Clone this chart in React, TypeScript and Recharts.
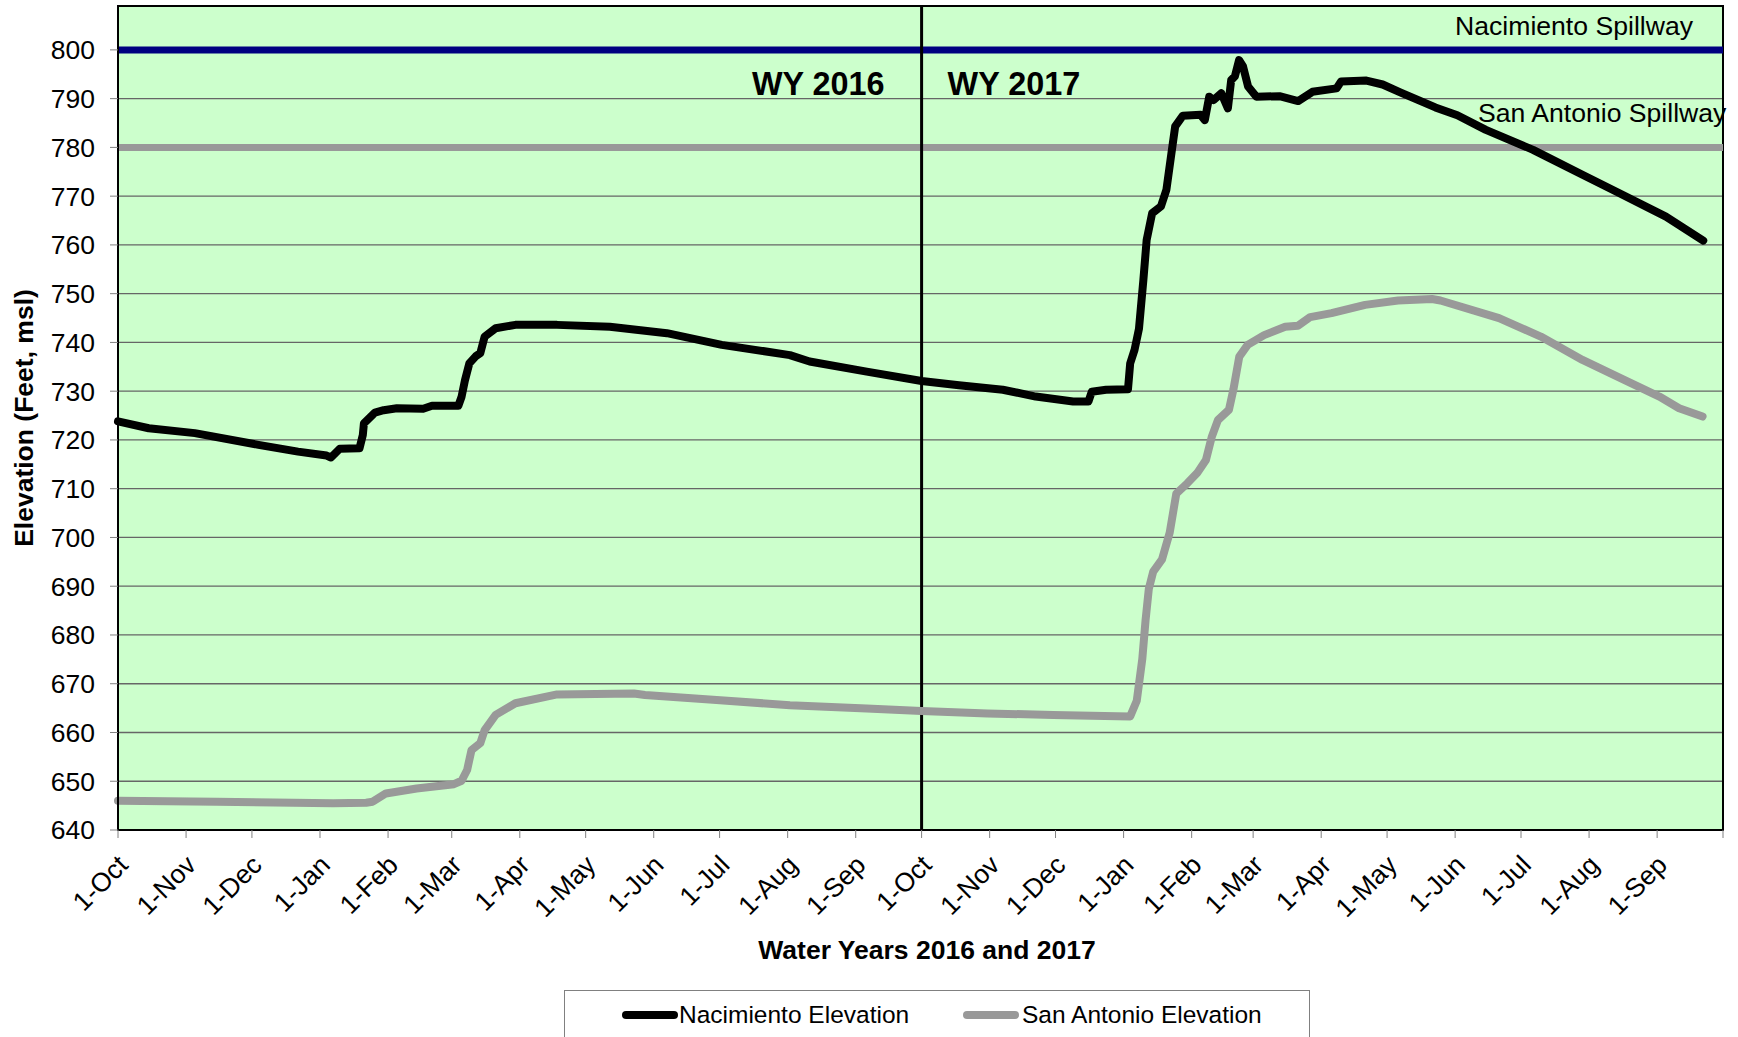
import React from 'react';
import { LineChart, Line, XAxis, YAxis, CartesianGrid, ReferenceLine, ReferenceArea } from 'recharts';

// Days counted from 1-Oct-2015 (start of WY 2016)
const nacDays = [0, 14, 35, 64, 82, 95, 97, 101, 110, 111.5, 112, 117, 121, 127, 139, 143, 155, 156.5, 158, 160, 163, 165, 167, 172, 181, 200, 224, 250, 275, 306, 315, 341, 366, 383, 403, 418, 435, 442, 443.5, 450, 460, 461, 463, 465, 467, 468.5, 471, 475, 477.5, 480, 481.5, 485, 493, 495, 497, 499, 502.5, 505.5, 507, 508.7, 510.6, 512.4, 514.7, 518.5, 529, 537.5, 544, 555, 557, 568.6, 576, 584, 600, 610, 623, 644.5, 667, 682.5, 705, 722];
const nacElev = [723.8, 722.4, 721.4, 719.0, 717.6, 716.8, 716.4, 718.2, 718.3, 721, 723.4, 725.6, 726.1, 726.5, 726.4, 727.0, 727.0, 728.9, 732.2, 735.7, 737.2, 737.8, 741.2, 742.9, 743.6, 743.6, 743.2, 741.9, 739.5, 737.4, 736.1, 734.0, 732.1, 731.2, 730.3, 728.9, 727.9, 727.9, 729.9, 730.3, 730.4, 735.7, 738.5, 742.8, 752.8, 761, 766.5, 767.9, 771.3, 779.5, 784.3, 786.5, 786.7, 785.6, 790.4, 789.7, 791.1, 788.0, 793.8, 794.6, 797.9, 796.6, 792.5, 790.4, 790.5, 789.5, 791.4, 792.1, 793.5, 793.7, 792.9, 791.3, 788.2, 786.6, 783.6, 779.5, 774.4, 770.9, 765.8, 760.9];

const saDays = [0, 45, 98, 113, 116, 122, 136, 153, 156.5, 159, 161, 165, 167, 172, 181, 200, 235, 240, 271, 306, 341, 366, 396, 426, 461, 464, 466.5, 468, 469.5, 471.5, 475.5, 479, 482, 487, 491.5, 495.5, 498.2, 501, 506, 508, 510.7, 514.5, 522, 531.6, 537.4, 543, 552.7, 568, 583, 598.5, 602.3, 629, 648, 667, 686, 702, 711, 721.7];
const saElev = [646.0, 645.8, 645.5, 645.6, 645.8, 647.5, 648.5, 649.4, 650.1, 652.3, 656.4, 657.8, 660.5, 663.6, 666.0, 667.8, 668.0, 667.7, 666.7, 665.6, 664.9, 664.4, 663.9, 663.6, 663.3, 666.5, 675, 683, 689.5, 693, 695.5, 701, 709, 711.1, 713.2, 715.9, 720.7, 724.1, 726.2, 730.3, 737.1, 739.5, 741.5, 743.2, 743.4, 745.2, 746.0, 747.7, 748.6, 748.9, 748.6, 745.0, 741.2, 736.4, 732.3, 728.9, 726.5, 724.8];

const monthTicks = [0, 31, 61, 92, 123, 152, 183, 213, 244, 274, 305, 336, 366, 397, 427, 458, 489, 517, 548, 578, 609, 639, 670, 701, 731];
const monthLabels = ['1-Oct', '1-Nov', '1-Dec', '1-Jan', '1-Feb', '1-Mar', '1-Apr', '1-May', '1-Jun', '1-Jul', '1-Aug', '1-Sep', '1-Oct', '1-Nov', '1-Dec', '1-Jan', '1-Feb', '1-Mar', '1-Apr', '1-May', '1-Jun', '1-Jul', '1-Aug', '1-Sep', ''];
const yTicks = [640, 650, 660, 670, 680, 690, 700, 710, 720, 730, 740, 750, 760, 770, 780, 790, 800];

const nacSpillway = 800;
const saSpillway = 780;
const wyBoundary = 366;
const xMax = 731;
const yMin = 640;
const yMax = 809;

const FONT = '"Liberation Sans", Arial, sans-serif';

function buildData() {
  const rows: Record<number, any> = {};
  nacDays.forEach((d, i) => {
    rows[d] = rows[d] || { day: d };
    rows[d].nac = nacElev[i];
  });
  saDays.forEach((d, i) => {
    rows[d] = rows[d] || { day: d };
    rows[d].sa = saElev[i];
  });
  return Object.keys(rows)
    .map(Number)
    .sort((a, b) => a - b)
    .map((k) => rows[k]);
}

const data = buildData();

const XTick = (props: any) => {
  const { x, y, payload } = props;
  const idx = monthTicks.indexOf(payload.value);
  const label = idx >= 0 ? monthLabels[idx] : '';
  return (
    <g transform={`translate(${x + 5},${y + 20})`}>
      <text textAnchor="end" transform="rotate(-45)" dy="0.35em" fontSize={26.5} fontFamily={FONT} fill="#000">
        {label}
      </text>
    </g>
  );
};

export default function App() {
  return (
    <div style={{ position: 'absolute', left: 0, top: 0, width: 1738, height: 1037, overflow: 'hidden', background: '#fff' }}>
      <LineChart width={1738} height={1037} data={data} margin={{ top: 6, right: 15, bottom: 0, left: 0 }}>
        <CartesianGrid vertical={false} stroke="#666666" strokeWidth={1.3} fill="#CCFFCC" fillOpacity={1} />
        <XAxis
          dataKey="day"
          type="number"
          domain={[0, xMax]}
          ticks={monthTicks}
          interval={0}
          height={207}
          tick={<XTick />}
          tickSize={8}
          axisLine={{ stroke: '#000', strokeWidth: 2 }}
          tickLine={{ stroke: '#808080' }}
          label={(p: any) => {
            return (
              <text x={927} y={950} textAnchor="middle" dy="0.35em" fontSize={26.5} fontWeight="bold" fontFamily={FONT} fill="#000">
                Water Years 2016 and 2017
              </text>
            );
          }}
        />
        <YAxis
          type="number"
          domain={[yMin, yMax]}
          ticks={yTicks}
          interval={0}
          width={118}
          tickSize={8}
          tickMargin={15}
          tick={{ fontSize: 26.5, fontFamily: FONT, fill: '#000' }}
          axisLine={{ stroke: '#000', strokeWidth: 2 }}
          tickLine={{ stroke: '#808080' }}
          allowDataOverflow
          label={(p: any) => (
            <text x={24} y={418} transform="rotate(-90, 24, 418)" textAnchor="middle" dy="0.35em" fontSize={26.5} fontWeight="bold" fontFamily={FONT} fill="#000">
              Elevation (Feet, msl)
            </text>
          )}
        />
        <ReferenceLine
          y={nacSpillway}
          stroke="#000080"
          strokeWidth={7}
          label={(p: any) => {
            const vb = p.viewBox || {};
            return (
              <text x={vb.x + vb.width - 30} y={vb.y - 15} textAnchor="end" fontSize={26.6} fontFamily={FONT} fill="#000">
                Nacimiento Spillway
              </text>
            );
          }}
        />
        <ReferenceLine
          y={saSpillway}
          stroke="#999999"
          strokeWidth={7}
          label={(p: any) => {
            const vb = p.viewBox || {};
            return (
              <text x={vb.x + vb.width - 245} y={vb.y - 25} textAnchor="start" fontSize={26.6} fontFamily={FONT} fill="#000">
                San Antonio Spillway
              </text>
            );
          }}
        />
        <ReferenceLine
          x={wyBoundary}
          stroke="#000"
          strokeWidth={3}
          label={(p: any) => {
            const vb = p.viewBox || {};
            return (
              <g>
                <text x={vb.x - 37} y={vb.y + 89} textAnchor="end" fontSize={32.4} fontWeight="bold" fontFamily={FONT} fill="#000">
                  WY 2016
                </text>
                <text x={vb.x + 26} y={vb.y + 89} textAnchor="start" fontSize={32.4} fontWeight="bold" fontFamily={FONT} fill="#000">
                  WY 2017
                </text>
              </g>
            );
          }}
        />
        <Line dataKey="sa" name="San Antonio Elevation" stroke="#999999" strokeWidth={8} dot={false} connectNulls isAnimationActive={false} strokeLinejoin="round" strokeLinecap="round" />
        <Line dataKey="nac" name="Nacimiento Elevation" stroke="#000000" strokeWidth={8} dot={false} connectNulls isAnimationActive={false} strokeLinejoin="round" strokeLinecap="round" />
        <ReferenceArea x1={0} x2={xMax} y1={yMin} y2={yMax} fill="none" stroke="#000" strokeWidth={2} />
      </LineChart>
      <div
        style={{
          position: 'absolute',
          left: 564,
          top: 990,
          width: 746,
          height: 60,
          border: '1px solid #808080',
          boxSizing: 'border-box',
          fontFamily: FONT,
          fontSize: 24.5,
          color: '#000',
        }}
      >
        <div style={{ position: 'absolute', left: 57, top: 20, width: 56, height: 8, background: '#000', borderRadius: 4 }} />
        <div style={{ position: 'absolute', left: 114, top: 9, lineHeight: '30px', whiteSpace: 'nowrap' }}>Nacimiento Elevation</div>
        <div style={{ position: 'absolute', left: 398, top: 20, width: 56, height: 8, background: '#999999', borderRadius: 4 }} />
        <div style={{ position: 'absolute', left: 457, top: 9, lineHeight: '30px', whiteSpace: 'nowrap' }}>San Antonio Elevation</div>
      </div>
    </div>
  );
}
